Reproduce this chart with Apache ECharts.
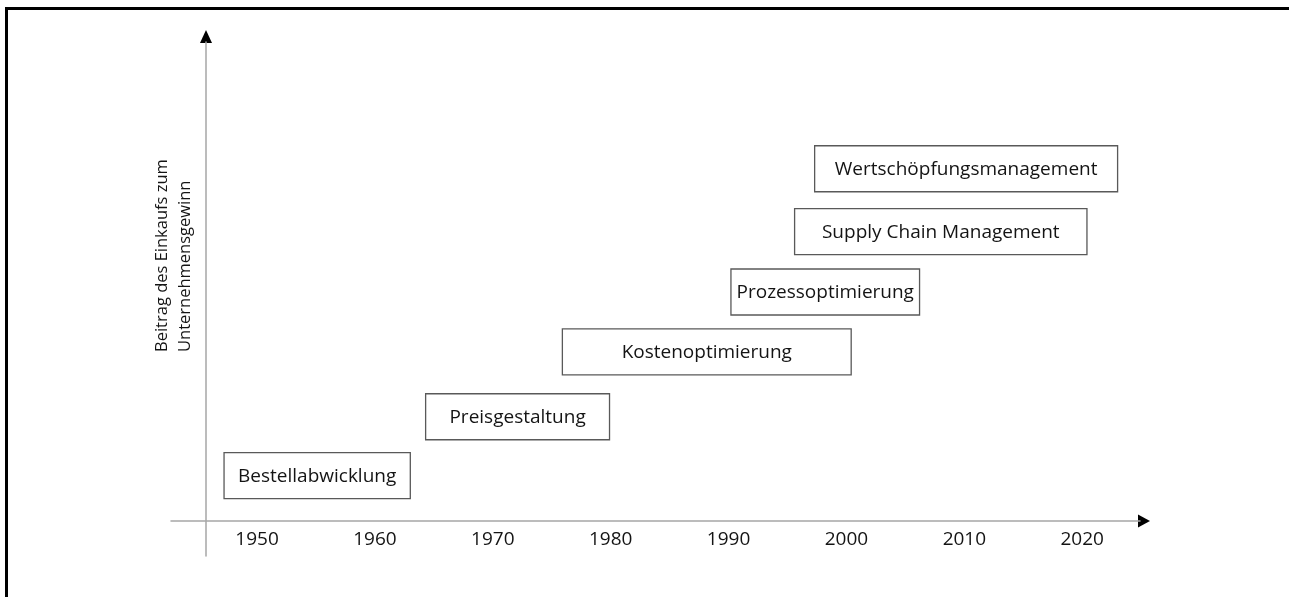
<!DOCTYPE html>
<html>
<head>
<meta charset="utf-8">
<title>Entwicklung des Einkaufs</title>
<script src="https://cdn.jsdelivr.net/npm/echarts@6/dist/echarts.min.js"></script>
<style>
    html, body { margin: 0; padding: 0; background: #fff; }
    #main { position: absolute; left: 0; top: 0; width: 1289px; height: 597px; }
    #frame { position: absolute; left: 5px; top: 7px; right: 0; bottom: 0;
             border-top: 3px solid #000; border-left: 3px solid #000; pointer-events: none; }
</style>
</head>
<body>
<div id="main"></div>
<div id="frame"></div>
<script>
// Phasen des Einkaufs: Beginn, Ende (Jahr) und Höhe auf der y-Achse
var phases = ['Bestellabwicklung', 'Preisgestaltung', 'Kostenoptimierung',
    'Prozessoptimierung', 'Supply Chain Management', 'Wertschöpfungsmanagement'];
var phaseStart = [1947.2, 1964.3, 1975.9, 1990.2, 1995.6, 1997.3];
var phaseEnd = [1963.0, 1979.9, 2000.4, 2006.2, 2020.4, 2023.0];
var phaseLevel = [9.1, 20.9, 33.9, 45.9, 58.0, 70.6];
// Beschriftung der Zeitachse
var yearTicks = [1950, 1960, 1970, 1980, 1990, 2000, 2010, 2020];
var yearLabels = ['1950', '1960', '1970', '1980', '1990', '2000', '2010', '2020'];

var FONT = '"Open Sans", Lato, sans-serif';
var myChart = echarts.init(document.getElementById('main'));

var boxData = [];
for (var i = 0; i < phases.length; i++) {
    boxData.push([phaseStart[i], phaseEnd[i], phaseLevel[i]]);
}

function renderBox(params, api) {
    var p0 = api.coord([api.value(0), api.value(2)]);
    var p1 = api.coord([api.value(1), api.value(2)]);
    var h = 46;
    return {
        type: 'group',
        children: [
            { type: 'rect',
              shape: { x: p0[0], y: p0[1] - h / 2, width: p1[0] - p0[0], height: h },
              style: { fill: '#fff', stroke: '#595959', lineWidth: 1.3 } },
            { type: 'text',
              style: { text: phases[params.dataIndex], x: (p0[0] + p1[0]) / 2, y: p0[1] + 1,
                       align: 'center', verticalAlign: 'middle',
                       font: '19px ' + FONT, fill: '#141414' } }
        ]
    };
}

var option = {
    animation: false,
    grid: { left: 171, right: 149, top: 42, bottom: 41 },
    xAxis: {
        type: 'value', min: 1942.7, max: 2024.9, offset: -35,
        axisLine: { onZero: false, lineStyle: { color: '#a6a6a6', width: 1.5 } },
        axisTick: { show: false },
        splitLine: { show: false },
        axisLabel: {
            customValues: yearTicks,
            margin: 9,
            color: '#141414',
            fontSize: 19,
            fontFamily: FONT,
            formatter: function (v) { return yearLabels[yearTicks.indexOf(v)]; }
        }
    },
    yAxis: {
        type: 'value', min: -7, max: 96, offset: -35,
        axisLine: { show: true, onZero: false, lineStyle: { color: '#a6a6a6', width: 1.5 } },
        axisTick: { show: false },
        axisLabel: { show: false },
        splitLine: { show: false }
    },
    series: [{
        type: 'custom',
        renderItem: renderBox,
        data: boxData,
        clip: false
    }]
};
myChart.setOption(option);

// Pfeilspitzen und Achsentitel
var xEnd = myChart.convertToPixel({ gridIndex: 0 }, [2024.9, 0]);
var yTop = myChart.convertToPixel({ gridIndex: 0 }, [1942.7, 96]);
var yAxisX = yTop[0] + 35;
myChart.setOption({
    graphic: [
        { type: 'polygon', shape: { points: [[xEnd[0] - 2, xEnd[1] - 6.5], [xEnd[0] + 10, xEnd[1]], [xEnd[0] - 2, xEnd[1] + 6.5]] },
          style: { fill: '#000' } },
        { type: 'polygon', shape: { points: [[yAxisX - 6, yTop[1] + 1], [yAxisX, yTop[1] - 12], [yAxisX + 6, yTop[1] + 1]] },
          style: { fill: '#000' } },
        { type: 'text', x: 174, y: 352, rotation: Math.PI / 2,
          style: { text: 'Beitrag des Einkaufs zum\nUnternehmensgewinn', align: 'left', verticalAlign: 'middle',
                   font: '16.5px ' + FONT, lineHeight: 23, fill: '#141414' } }
    ]
});
</script>
</body>
</html>
